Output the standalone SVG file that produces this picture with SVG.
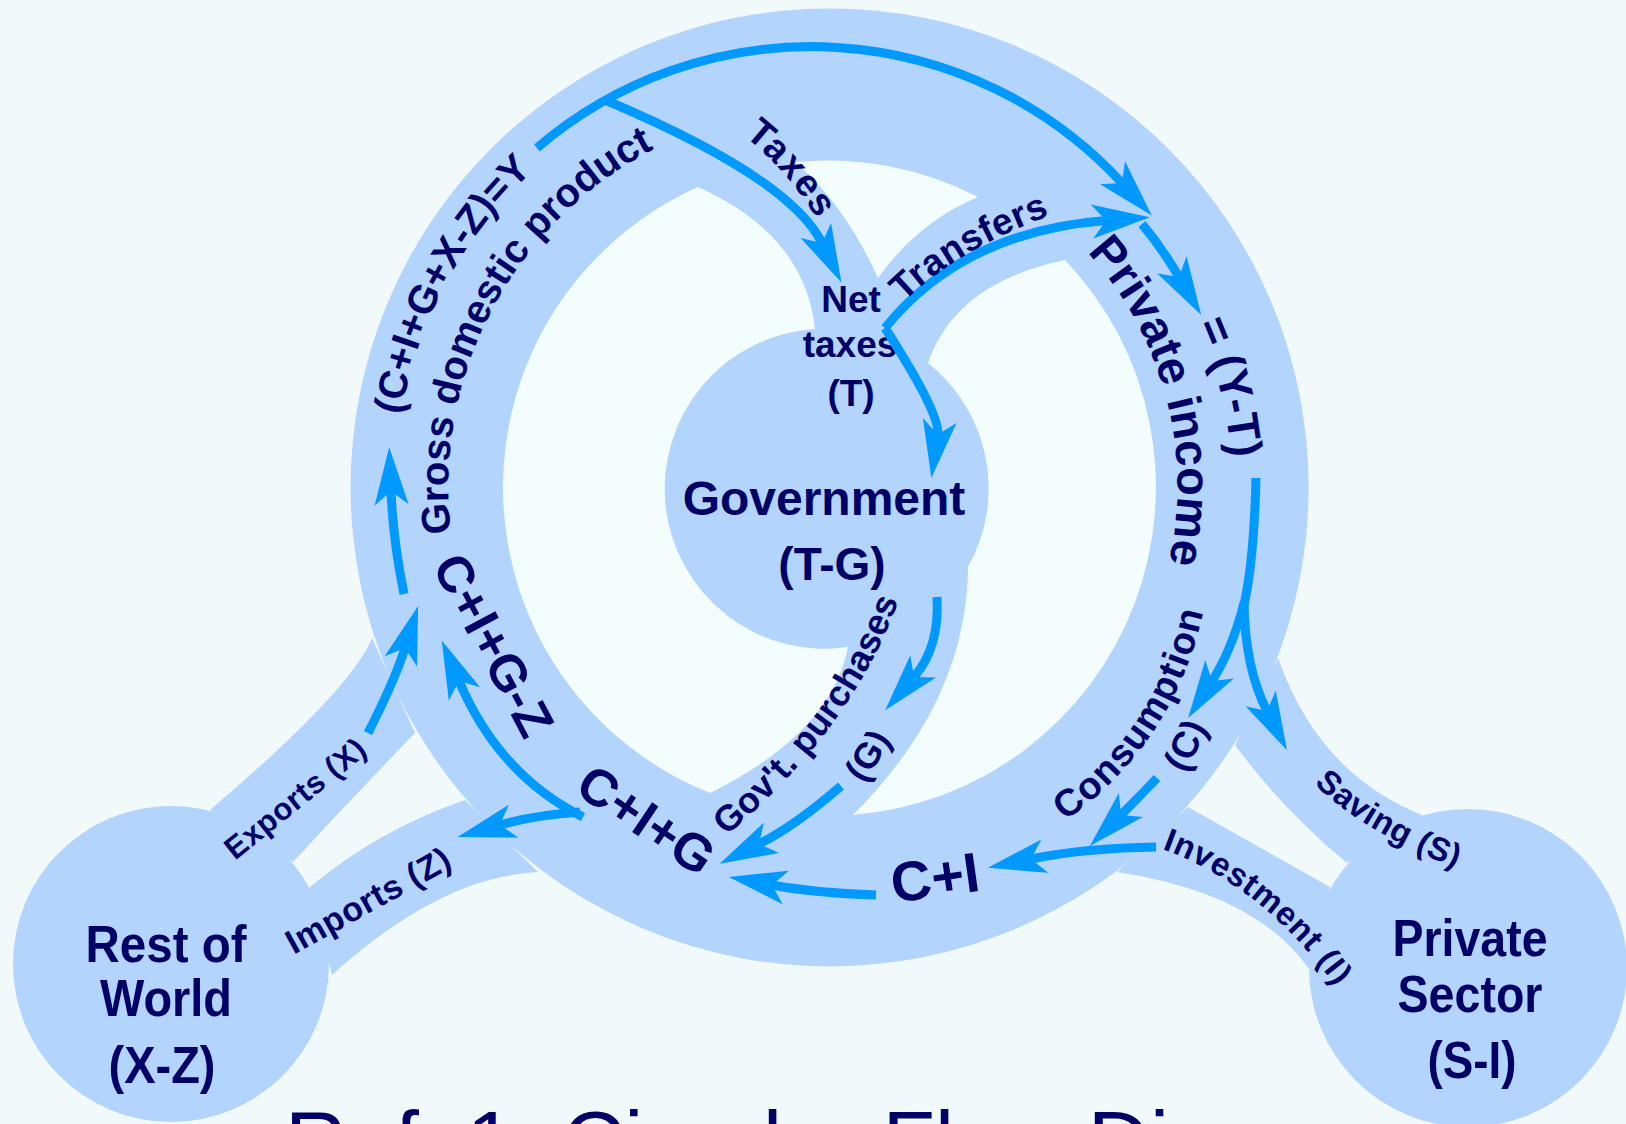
<svg xmlns="http://www.w3.org/2000/svg" width="1626" height="1124" viewBox="0 0 1626 1124">
<style>
.band{fill:#b3d4fc}
.hole{fill:#f4fdfd}
.arr{fill:none;stroke:#0099ff;stroke-width:9}
.t{font-family:"Liberation Sans",Arial,sans-serif;font-weight:bold;fill:#000066}
.m{text-anchor:middle}
</style>
<defs>
<marker id="ah" markerUnits="userSpaceOnUse" viewBox="-20 -30 80 60" markerWidth="80" markerHeight="60" refX="0" refY="0" orient="auto" overflow="visible">
<path d="M-14,-17 L44,0 L-14,17 L0,0 Z" fill="#0099ff"/>
</marker>
<path id="pA" d="M401,415 A433,433 0 0,1 754,61"/>
<path id="pB" d="M451,533 A381,381 0 0,1 763,112"/>
<path id="pPI" d="M1087,252 A348,348 0 0,1 1156,606"/>
<path id="pYT" d="M1197,324 A402,402 0 0,1 1231,523"/>
<path id="pTax" d="M744,136 Q792,174 822,228"/>
<path id="pTr" d="M904,302 Q959,247 1065,210"/>
<path id="pGP" d="M726,836 Q859,724 904,585"/>
<path id="pCo" d="M1065,821 Q1180,740 1206,598"/>
<path id="pSa" d="M1314,784 Q1369,837 1470,873"/>
<path id="pIn" d="M1162,849 Q1273,889 1352,1010"/>
</defs>
<rect width="1626" height="1124" fill="#f2f9fb"/>

<g id="bands">
<circle class="band" cx="829.6" cy="487.4" r="479"/>
<path class="band" d="M210,810 Q351,690 372,638 L415,733 Q355,795 293,862 Z"/>
<path class="band" d="M332,975 Q440,877 538,872 L465,800 Q378,830 310,887 Z"/>
<path class="band" d="M1278,658 Q1318.5,773.6 1422,815 L1347,863 Q1283,810 1235,745 Z"/>
<path class="band" d="M1117,872 Q1256,893 1309,969 L1330,887 L1188,807 Z"/>
<path class="hole" d="M698,187 A329,329 0 0,0 710,793 Q831,733 848,647 A160,160 0 1,1 815,329 Q805,235 698,187 Z"/>
<path class="hole" d="M1065,260 A329,329 0 0,1 853,815 Q967,701 968,567 A160,160 0 0,0 928,363 Q955,283 1065,260 Z"/>
<path class="hole" d="M795,162 A329,329 0 0,1 978,197 Q918,222 878,278 Q845,205 795,162 Z"/>
</g>

<g id="node-government">
<text class="t m" x="824" y="515" font-size="48">Government</text>
<text class="t m" x="832" y="580" font-size="46">(T-G)</text>
</g>

<g id="node-net-taxes">
<text class="t m" x="851" y="312" font-size="37">Net</text>
<text class="t m" x="850" y="357" font-size="37">taxes</text>
<text class="t m" x="851" y="406" font-size="37">(T)</text>
</g>

<g id="node-rest-of-world">
<circle class="band" cx="171" cy="964" r="158"/>
<text class="t m" x="166" y="962" font-size="52" textLength="161" lengthAdjust="spacingAndGlyphs">Rest of</text>
<text class="t m" x="166" y="1016" font-size="52" textLength="132" lengthAdjust="spacingAndGlyphs">World</text>
<text class="t m" x="162" y="1083" font-size="52" textLength="107" lengthAdjust="spacingAndGlyphs">(X-Z)</text>
</g>

<g id="node-private-sector">
<circle class="band" cx="1468" cy="968" r="159"/>
<text class="t m" x="1470" y="956" font-size="52" textLength="155" lengthAdjust="spacingAndGlyphs">Private</text>
<text class="t m" x="1470" y="1012" font-size="52" textLength="145" lengthAdjust="spacingAndGlyphs">Sector</text>
<text class="t m" x="1472" y="1078" font-size="52" textLength="89" lengthAdjust="spacingAndGlyphs">(S-I)</text>
</g>

<g id="connectors">
<path class="arr" d="M537,148 A422,422 0 0,1 1122,183" marker-end="url(#ah)"/>
<path class="arr" d="M605,100 Q790,178 822,243" marker-end="url(#ah)"/>
<path class="arr" d="M885,328 Q963,231.5 1106,220.5" marker-end="url(#ah)"/>
<path class="arr" d="M885,328 Q940.6,414.5 937.7,434.4" marker-end="url(#ah)"/>
<path class="arr" d="M1142,224 Q1162,248 1179,277" marker-end="url(#ah)"/>
<path class="arr" d="M1256,478 Q1254,560 1244,605"/>
<path class="arr" d="M1244,603 Q1232,650 1212,681" marker-end="url(#ah)"/>
<path class="arr" d="M1244,603 Q1245,668 1267,711" marker-end="url(#ah)"/>
<path class="arr" d="M1157,778 Q1140,796 1121,815" marker-end="url(#ah)"/>
<path class="arr" d="M1156,847 Q1085,848 1031,859" marker-end="url(#ah)"/>
<path class="arr" d="M876,895 Q815,893 772,885" marker-end="url(#ah)"/>
<path class="arr" d="M937,597 Q940,647 914,677" marker-end="url(#ah)"/>
<path class="arr" d="M841,786 Q795,826 759,844" marker-end="url(#ah)"/>
<path class="arr" d="M580,812 Q535,815 500,825" marker-end="url(#ah)"/>
<path class="arr" d="M583,817 Q499,775 459,681" marker-end="url(#ah)"/>
<path class="arr" d="M368,733 Q395,680 405,648" marker-end="url(#ah)"/>
<path class="arr" d="M404,594 Q393,540 391,491" marker-end="url(#ah)"/>
</g>

<g id="labels">
<text class="t" font-size="40"><textPath href="#pA">(C+I+G+X-Z)=Y</textPath></text>
<text class="t" font-size="40"><textPath href="#pB">Gross domestic product</textPath></text>
<text class="t" font-size="47"><textPath href="#pPI">Private income</textPath></text>
<text class="t" font-size="45"><textPath href="#pYT">= (Y-T)</textPath></text>
<text class="t" font-size="38" letter-spacing="1.5"><textPath href="#pTax">Taxes</textPath></text>
<text class="t" font-size="37" letter-spacing="0.5"><textPath href="#pTr">Transfers</textPath></text>
<text class="t" font-size="36" letter-spacing="0.3"><textPath href="#pGP">Gov't. purchases</textPath></text>
<text class="t" font-size="38" letter-spacing="1.2"><textPath href="#pCo">Consumption</textPath></text>
<text class="t" font-size="33" letter-spacing="0.5"><textPath href="#pSa">Saving (S)</textPath></text>
<text class="t" font-size="33" letter-spacing="0.8"><textPath href="#pIn">Investment (I)</textPath></text>
<text class="t m" font-size="36" transform="translate(867,755) rotate(-58)" y="13">(G)</text>
<text class="t m" font-size="37" transform="translate(1185,745) rotate(-64)" y="13">(C)</text>
<text class="t m" font-size="31" letter-spacing="0.6" transform="translate(295,798) rotate(-39)" y="11">Exports (X)</text>
<text class="t m" font-size="34" letter-spacing="0.5" transform="translate(368,900) rotate(-29)" y="12">Imports (Z)</text>
<text class="t m" font-size="56" transform="translate(935,877) rotate(-8)" y="20">C+I</text>
<text class="t m" font-size="52" transform="translate(647,819) rotate(34)" y="19">C+I+G</text>
<text class="t m" font-size="51" transform="translate(494,645) rotate(62)" y="18">C+I+G-Z</text>
</g>

<text x="285" y="1171" font-family="Liberation Sans, Arial, sans-serif" font-size="86" fill="#000066">Ref. 1: Circular Flow Diagram</text>
</svg>
